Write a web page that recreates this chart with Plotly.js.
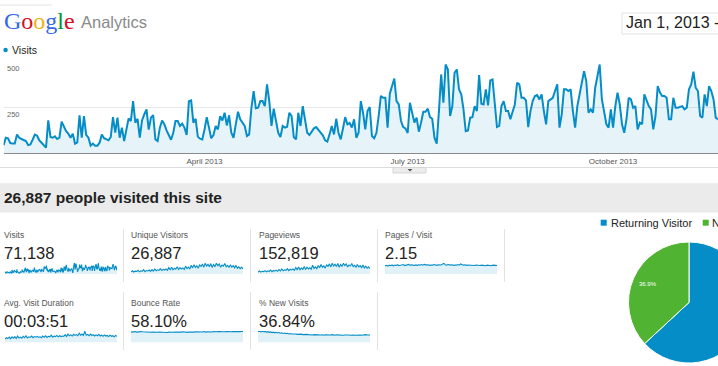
<!DOCTYPE html>
<html><head><meta charset="utf-8">
<script src="https://cdn.plot.ly/plotly-3.0.1.min.js"></script>
<style>html,body{margin:0;padding:0;overflow:hidden;background:#fff;width:718px;height:366px}#chart{width:760px;height:366px}</style>
</head><body><div id="chart"></div>
<script>
// ---- Daily visits (main chart) ----
const visitsJan = [43,83,80,54,51,51,100,83,76,71,65,43,47,72,100,94,69,56,43,29,177,87,83,91,76,83,170,147,119,105,83];
const visitsFeb = [105,51,58,205,83,200,98,83,40,51,40,40,56,100,80,76,69,87,195,111,192,83,138,65,123,188,174,282];
const visitsMar = [165,186,83,177,210,237,127,192,206,74,65,138,177,156,123,101,72,110,174,174,147,160,138,98,282,286,165,186,89,78,74];
const visitsApr = [128,195,138,80,98,147,128,200,177,219,150,205,110,83,156,224,183,161,147,92,101,246,337,243,246,282,282,255,373,282];
const visitsMay = [147,241,165,110,87,147,138,143,219,201,87,74,219,147,255,177,110,98,119,134,141,127,116,96,69,62,101,147,101,186,110];
const visitsJun = [74,132,195,156,163,138,183,83,110,282,219,128,228,250,92,80,110,201,310,300,300,138,322,364,405,282,264,174,141,134];
const visitsJul = [109,273,219,165,192,116,165,224,224,241,195,186,83,51,228,427,273,481,454,201,255,436,454,346,319,237,119,123,192,195,255];
const visitsAug = [228,424,268,264,346,259,395,400,264,141,147,255,282,228,228,183,224,264,382,373,300,300,286,141,228,282,310,315,291,319,228];
const visitsSep = [156,282,291,300,337,373,138,210,346,346,337,346,228,138,255,319,382,445,391,219,237,219,355,418,481,291,228,156,138,237];
const visitsOct = [138,255,328,264,156,110,183,300,291,246,255,128,165,156,319,282,255,237,128,201,364,328,310,310,300,183,183,300,246,246,250];
const visitsNov = [255,237,246,346,373,442,355,337,201,192,319,255,364,337,291,192,183];
const visitsByMonth = [visitsJan,visitsFeb,visitsMar,visitsApr,visitsMay,visitsJun,visitsJul,visitsAug,visitsSep,visitsOct,visitsNov];

const monthTickVals = ['2013-04-01','2013-07-01','2013-10-01'];
const monthTickText = ['April 2013','July 2013','October 2013'];
const yTickVals = [250, 500];
const yTickText = ['250', '500'];

// ---- Scorecards ----
const metricLabels = ['Visits','Unique Visitors','Pageviews','Pages / Visit','Avg. Visit Duration','Bounce Rate','% New Visits'];
const metricValues = ['71,138','26,887','152,819','2.15','00:03:51','58.10%','36.84%'];
const headline = '26,887 people visited this site';
const dateRange = 'Jan 1, 2013 - Dec 31, 2013';

// sparkline series (samples, every ~4-5 days)
const sparkUnique = [30,45,28,40,35,52,30,44,38,60,33,48,42,55,36,62,40,70,45,58,50,75,48,65,55,
  70,52,88,60,95,58,80,66,100,62,90,70,85,64,110,75,95,70,120,85,130,90,115,80,125,
  105,140,95,150,110,135,100,145,90,130,105,150,115,140,95,125,110,145,100,
  120,90,130,95,115,85,120,80,100,75,95,70];
const sparkPageviews = [60,90,55,80,70,100,65,95,75,120,70,105,85,115,80,130,90,150,95,125,110,160,100,140,120,
  150,110,190,130,210,125,175,140,220,135,200,150,185,140,260,165,210,155,250,185,280,200,240,175,270,
  230,300,210,320,240,290,220,310,200,280,230,320,250,300,210,270,240,310,220,
  260,200,280,210,250,190,270,180,230,170,210,160];
const sparkPagesPerVisit = [2.1,2.25,2.05,2.3,2.15,2.35,2.1,2.3,2.2,2.4,2.15,2.3,2.25,2.45,2.2,2.35,2.3,2.5,2.25,2.4,2.3,2.2,2.35,2.25,2.4,
  2.3,2.45,2.3,2.5,2.35,2.3,2.4,2.25,2.35,2.3,2.45,2.3,2.25,2.4,2.3,2.35,2.5,2.8,2.4,2.3,2.45,2.35,2.3,2.4,2.25,
  2.35,2.3,2.45,2.3,2.6,2.35,2.3,2.4,2.25,2.35,2.3,2.4,2.25,2.3,2.2,2.35,2.25,2.3,2.2,
  2.3,2.2,2.25,2.15,2.3,2.2,2.25,2.15,2.3,2.2,2.25,2.2];
const sparkDuration = [120,170,140,190,130,200,150,210,140,230,160,190,150,220,170,240,160,200,180,230,170,210,190,220,180,
  200,170,230,190,240,180,220,200,260,190,230,210,250,200,240,210,230,220,280,210,300,240,270,230,290,
  250,280,240,330,260,300,250,400,260,290,240,300,250,280,230,270,240,290,230,
  260,220,270,230,250,210,260,220,240,200,250,220];
const sparkBounce = [57,59,58,60,57,59,58,60,59,58,60,57,59,58,56,58,57,55,57,56,58,57,59,56,58,
  57,55,57,56,58,56,57,55,57,58,56,57,59,57,58,56,58,57,59,58,57,59,58,60,58,
  59,58,60,57,59,58,60,59,58,60,58,59,60,58,60,59,61,59,60,
  59,61,60,59,61,60,62,60,61,60,62,61];
const sparkNewVisits = [49,50,47,50,48,49,46,48,45,47,44,46,43,45,42,44,41,43,40,42,39,41,38,40,38,
  39,37,38,36,37,36,37,35,36,34,36,35,34,36,33,35,34,33,35,34,33,34,32,34,33,
  34,32,33,35,33,32,34,33,32,34,33,32,33,34,32,33,32,34,33,
  32,33,34,32,33,32,34,33,35,33,34,33];

const visitorTypes = ['Returning Visitor','New Visitor'];
const visitorShares = [63.1, 36.9];

// ---- geometry helpers (page is 760 wide, window shows 718) ----
const W = 760, H = 366;
const px = x => x / W;
const py = y => 1 - y / H;
const BLUE = '#058dc7', GREEN = '#50b432';
const FONT = 'Arial, "Liberation Sans", sans-serif';

// build daily dates
const visitDates = [], visitVals = [];
visitsByMonth.forEach((arr, m) => {
  arr.forEach((v, i) => {
    const mm = String(m + 1).padStart(2, '0');
    const dd = String(i + 1).padStart(2, '0');
    visitDates.push(`2013-${mm}-${dd}`);
    visitVals.push(v);
  });
});

const traces = [];
traces.push({
  x: visitDates, y: visitVals, type: 'scatter', mode: 'lines',
  line: {color: BLUE, width: 2}, fill: 'tozeroy', fillcolor: 'rgba(5,141,199,0.10)',
  xaxis: 'x', yaxis: 'y', hoverinfo: 'skip', showlegend: false
});

const sparkSeries = [visitVals, sparkUnique, sparkPageviews, sparkPagesPerVisit, sparkDuration, sparkBounce, sparkNewVisits];
const cellX = [[5,117],[131,243],[258,370],[385,497],[5,117],[131,243],[258,370]];
const rowY = [[263,274],[263,274],[263,274],[263,274],[331,342.5],[331,342.5],[331,342.5]];

const layout = {
  width: W, height: H, margin: {l: 0, r: 0, t: 0, b: 0},
  paper_bgcolor: '#fff', plot_bgcolor: 'rgba(0,0,0,0)',
  font: {family: FONT, color: '#222'},
  showlegend: false,
  xaxis: {
    domain: [px(3.6), px(718)], type: 'date', range: ['2013-01-01', '2013-11-17'],
    tickvals: monthTickVals, ticktext: monthTickText, ticks: '', showgrid: false,
    showline: true, linecolor: '#8a8a8a', linewidth: 1, zeroline: false,
    tickfont: {size: 8, color: '#555', family: FONT}, fixedrange: true, anchor: 'y'
  },
  yaxis: {
    domain: [py(153), py(60.1)], range: [0, 505],
    tickvals: yTickVals, showticklabels: false, ticks: '', showgrid: true, gridcolor: '#e8e8e8', gridwidth: 1,
    zeroline: false, showline: false, fixedrange: true, anchor: 'x'
  },
  annotations: [], shapes: []
};

sparkSeries.forEach((s, i) => {
  const k = i + 2;
  const hi = Math.max(...s) * 1.02;
  layout['xaxis' + k] = {domain: [px(cellX[i][0]), px(cellX[i][1])], range: [0, s.length - 1], visible: false, fixedrange: true, anchor: 'y' + k};
  layout['yaxis' + k] = {domain: [py(rowY[i][1]), py(rowY[i][0])], range: [0, hi], visible: false, fixedrange: true, anchor: 'x' + k};
  traces.push({
    x: s.map((_, j) => j), y: s, type: 'scatter', mode: 'lines',
    line: {color: BLUE, width: 1.1}, fill: 'tozeroy', fillcolor: 'rgba(5,141,199,0.12)',
    xaxis: 'x' + k, yaxis: 'y' + k, hoverinfo: 'skip', showlegend: false
  });
});

traces.push({
  type: 'pie', labels: visitorTypes, values: visitorShares, sort: false, direction: 'clockwise', rotation: 0,
  marker: {colors: [BLUE, GREEN], line: {color: '#fff', width: 1}},
  textinfo: 'none',
  domain: {x: [px(628.5), px(749.5)], y: [py(363), py(242)]},
  hoverinfo: 'skip', showlegend: false
});

const A = layout.annotations, S = layout.shapes;
function txt(text, x, y, size, color, opts) {
  A.push(Object.assign({text: text, x: px(x), y: py(y), xref: 'paper', yref: 'paper', xanchor: 'left', yanchor: 'middle',
    showarrow: false, borderpad: 0, font: {size: size, color: color, family: FONT}}, opts || {}));
}

// y tick labels, placed just below their gridlines as in the reference
yTickVals.forEach((v, i) => A.push({text: yTickText[i], x: px(5.5), xref: 'paper', y: v, yref: 'y', xanchor: 'left', yanchor: 'top',
  yshift: -2, showarrow: false, borderpad: 0, font: {size: 7.5, color: '#666', family: FONT}}));

// header
S.push({type: 'line', xref: 'paper', yref: 'paper', x0: 0, x1: px(52), y0: py(5), y1: py(5), line: {color: '#e6e6e6', width: 1}});
const logoLetters = [['G','#3369e8'],['o','#d50f25'],['o','#eeb211'],['g','#3369e8'],['l','#009925'],['e','#d50f25']];
txt(logoLetters.map(l => `<span style="color:${l[1]}">${l[0]}</span>`).join(''), 2.5, 21, 24, '#3369e8', {font: {size: 24, family: '"Liberation Serif", "DejaVu Serif", serif', color: '#3369e8'}});
txt('Analytics', 80, 21.5, 16.5, '#8a8a8a');
S.push({type: 'rect', xref: 'paper', yref: 'paper', x0: px(622), x1: px(800), y0: py(34), y1: py(13), line: {color: '#e4e4e4', width: 1}, fillcolor: '#fff'});
txt(dateRange, 625, 23, 16, '#222');

// legend for main chart
S.push({type: 'circle', xref: 'paper', yref: 'paper', x0: px(3.3), x1: px(7.8), y0: py(52.3), y1: py(47.8), fillcolor: BLUE, line: {width: 0}});
txt('Visits', 10.5, 50.3, 10.5, '#222');

// below axis: border line and handle
S.push({type: 'line', xref: 'paper', yref: 'paper', x0: 0, x1: 1, y0: py(167.5), y1: py(167.5), line: {color: '#dcdcdc', width: 1}});
S.push({type: 'rect', xref: 'paper', yref: 'paper', x0: px(393), x1: px(426), y0: py(173), y1: py(167.5), fillcolor: '#ececec', line: {color: '#d6d6d6', width: 1}});
S.push({type: 'path', xref: 'paper', yref: 'paper', path: `M ${px(407.5)} ${py(169)} L ${px(412.5)} ${py(169)} L ${px(410)} ${py(171.5)} Z`, fillcolor: '#555', line: {width: 0}});

// headline band
S.push({type: 'rect', xref: 'paper', yref: 'paper', x0: 0, x1: 1, y0: py(212.5), y1: py(183.3), fillcolor: '#ebebeb', line: {width: 0}, layer: 'below'});
txt('<b>' + headline + '</b>', 2.5, 197.5, 15.5, '#222');

// scorecards
const labelPos = [[3,234.5,252.7],[130,234.5,252.7],[257.5,234.5,252.7],[384,234.5,252.7],[3,303,321],[130,303,321],[257.5,303,321]];
metricLabels.forEach((l, i) => {
  txt(l, labelPos[i][0], labelPos[i][1], 8.5, '#555');
  txt(metricValues[i], labelPos[i][0], labelPos[i][2], 16.5, '#222');
});
[123.5, 250.5, 377.5, 504.5].forEach(x => S.push({type: 'line', xref: 'paper', yref: 'paper', x0: px(x), x1: px(x), y0: py(282), y1: py(229), line: {color: '#e2e2e2', width: 1}}));
[123.5, 250.5, 377.5].forEach(x => S.push({type: 'line', xref: 'paper', yref: 'paper', x0: px(x), x1: px(x), y0: py(350), y1: py(292), line: {color: '#e2e2e2', width: 1}}));

// pie legend and slice label
S.push({type: 'rect', xref: 'paper', yref: 'paper', x0: px(600.7), x1: px(606.7), y0: py(225.7), y1: py(219.7), fillcolor: BLUE, line: {width: 0}});
txt(visitorTypes[0], 610, 223, 11, '#222');
S.push({type: 'rect', xref: 'paper', yref: 'paper', x0: px(702.7), x1: px(708.7), y0: py(225.7), y1: py(219.7), fillcolor: GREEN, line: {width: 0}});
txt(visitorTypes[1], 711, 223, 11, '#222');
txt(visitorShares[1].toFixed(1) + '%', 638, 284, 6, '#ffffff');

Plotly.newPlot('chart', traces, layout, {displayModeBar: false, staticPlot: true});
</script>
</body></html>
